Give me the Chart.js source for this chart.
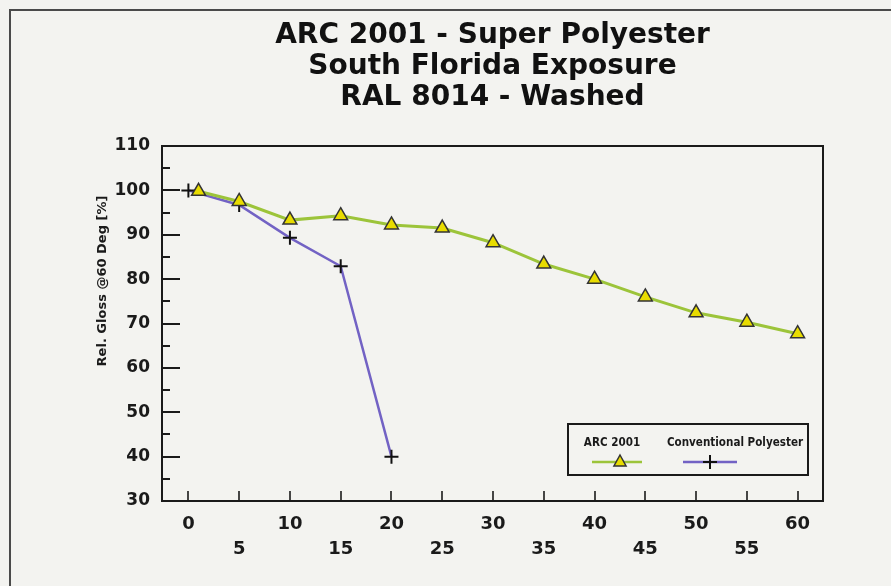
<!DOCTYPE html>
<html>
<head>
<meta charset="utf-8">
<script src="https://cdn.jsdelivr.net/npm/chart.js@4"></script>
<style>
  html, body { margin: 0; padding: 0; background: #f3f3f0; }
  #wrap { width: 891px; height: 586px; }
</style>
</head>
<body>
<div id="wrap"><canvas id="c" width="891" height="586"></canvas></div>
<script>
// ---- Data ----
const titleLines = ["ARC 2001 - Super Polyester", "South Florida Exposure", "RAL 8014 - Washed"];
const yAxisTitle = "Rel. Gloss @60 Deg [%]";
const arcName = "ARC 2001";
const convName = "Conventional Polyester";
const arcMonths = [1, 5, 10, 15, 20, 25, 30, 35, 40, 45, 50, 55, 60];
const arcGloss  = [99.8, 97.5, 93.3, 94.3, 92.2, 91.5, 88.2, 83.4, 80.0, 76.0, 72.4, 70.3, 67.7];
const convMonths = [0, 5, 10, 15, 20];
const convGloss  = [100, 96.7, 89.3, 82.9, 40.0];
const xTickValues = [0, 5, 10, 15, 20, 25, 30, 35, 40, 45, 50, 55, 60];
const yTickValues = [30, 35, 40, 45, 50, 55, 60, 65, 70, 75, 80, 85, 90, 95, 100, 105, 110];

const FONT = "'DejaVu Sans', 'Noto Sans', sans-serif";
const INK = '#1a1a1a';
const BG = '#f3f3f0';
const ARC_LINE = '#9cc43a';
const ARC_FILL = '#e8dc00';
const CONV_LINE = '#7262c4';

const toXY = (xs, ys) => xs.map((x, i) => ({ x: x, y: ys[i] }));

function narrowText(ctx, text, x, y, squeeze) {
  ctx.save();
  ctx.translate(x, y);
  ctx.scale(squeeze, 1);
  ctx.fillText(text, 0, 0);
  ctx.restore();
}

const framePlugin = {
  id: 'frame',
  beforeDraw(chart) {
    const ctx = chart.ctx;
    ctx.save();
    ctx.fillStyle = BG;
    ctx.fillRect(0, 0, chart.width, chart.height);
    ctx.strokeStyle = '#4a4a4a';
    ctx.lineWidth = 2;
    ctx.strokeRect(10, 10, chart.width + 20, chart.height + 20);
    ctx.restore();
  },
  afterDraw(chart) {
    const ctx = chart.ctx;
    const a = chart.chartArea;
    const xs = chart.scales.x, ys = chart.scales.y;
    ctx.save();
    ctx.strokeStyle = INK;
    ctx.lineCap = 'butt';
    // top and right borders
    ctx.lineWidth = 2;
    ctx.beginPath();
    ctx.moveTo(a.left, a.top); ctx.lineTo(a.right, a.top); ctx.lineTo(a.right, a.bottom);
    ctx.stroke();
    // y ticks (inward)
    ys.ticks.forEach(t => {
      const y = Math.round(ys.getPixelForValue(t.value));
      const len = (t.value % 10 === 0) ? 18 : 8;
      ctx.beginPath(); ctx.moveTo(a.left, y); ctx.lineTo(a.left + len, y); ctx.stroke();
    });
    // x ticks (inward)
    ctx.lineWidth = 1.6;
    xs.ticks.forEach(t => {
      const x = Math.round(xs.getPixelForValue(t.value));
      ctx.beginPath(); ctx.moveTo(x, a.bottom); ctx.lineTo(x, a.bottom - 10); ctx.stroke();
    });
    // y axis title
    ctx.save();
    ctx.translate(103, 281);
    ctx.rotate(-Math.PI / 2);
    ctx.fillStyle = INK;
    ctx.font = "bold 13px " + FONT;
    ctx.textAlign = 'center';
    ctx.textBaseline = 'middle';
    ctx.fillText(yAxisTitle, 0, 0);
    ctx.restore();
    // legend
    const L = a.right - 255, R = a.right - 15, T = a.bottom - 77, B = a.bottom - 26;
    ctx.fillStyle = BG;
    ctx.fillRect(L, T, R - L, B - T);
    ctx.lineWidth = 2;
    ctx.strokeStyle = INK;
    ctx.strokeRect(L, T, R - L, B - T);
    ctx.fillStyle = INK;
    ctx.font = "bold 13px " + FONT;
    ctx.textAlign = 'center';
    ctx.textBaseline = 'middle';
    const c1 = L + 44, c2 = L + 167;
    narrowText(ctx, arcName, c1, T + 19, 0.8);
    narrowText(ctx, convName, c2, T + 19, 0.8);
    const ly = T + 38;
    // ARC sample
    ctx.strokeStyle = ARC_LINE; ctx.lineWidth = 2.5;
    ctx.beginPath(); ctx.moveTo(c1 - 20, ly); ctx.lineTo(c1 + 30, ly); ctx.stroke();
    ctx.fillStyle = ARC_FILL; ctx.strokeStyle = '#333';
    ctx.lineWidth = 1.5;
    ctx.beginPath();
    const r = 7, tx = c1 + 8;
    ctx.moveTo(tx, ly - r);
    ctx.lineTo(tx + r * 0.866, ly + r * 0.5 + 0.5);
    ctx.lineTo(tx - r * 0.866, ly + r * 0.5 + 0.5);
    ctx.closePath(); ctx.fill(); ctx.stroke();
    // Conv sample
    ctx.strokeStyle = CONV_LINE; ctx.lineWidth = 2.5;
    ctx.beginPath(); ctx.moveTo(c2 - 52, ly); ctx.lineTo(c2 + 2, ly); ctx.stroke();
    ctx.strokeStyle = '#111'; ctx.lineWidth = 2;
    const cx = c2 - 25;
    ctx.beginPath();
    ctx.moveTo(cx - 7, ly); ctx.lineTo(cx + 7, ly);
    ctx.moveTo(cx, ly - 7); ctx.lineTo(cx, ly + 7);
    ctx.stroke();
    ctx.restore();
  }
};

new Chart(document.getElementById('c'), {
  type: 'line',
  data: {
    datasets: [
      {
        label: arcName,
        data: toXY(arcMonths, arcGloss),
        borderColor: ARC_LINE,
        borderWidth: 3,
        pointStyle: 'triangle',
        pointRadius: 8,
        pointBackgroundColor: ARC_FILL,
        pointBorderColor: '#333',
        pointBorderWidth: 1.5,
        tension: 0
      },
      {
        label: convName,
        data: toXY(convMonths, convGloss),
        borderColor: CONV_LINE,
        borderWidth: 2.5,
        pointStyle: 'cross',
        pointRadius: 7,
        pointBorderColor: '#111',
        pointBorderWidth: 2,
        tension: 0
      }
    ]
  },
  options: {
    responsive: false,
    animation: false,
    devicePixelRatio: 1,
    layout: { padding: { left: 0, right: 68, top: 0, bottom: 0 } },
    plugins: {
      legend: { display: false },
      tooltip: { enabled: false },
      title: {
        display: true,
        fullSize: false,
        text: titleLines,
        color: '#111',
        font: { family: FONT, size: 28, weight: 'bold', lineHeight: 31 / 28 },
        padding: { top: 20, bottom: 33 }
      }
    },
    scales: {
      x: {
        type: 'linear',
        min: -2.6,
        max: 62.5,
        afterBuildTicks: (s) => { s.ticks = xTickValues.map(v => ({ value: v })); },
        afterFit: (s) => { s.height = 85; },
        ticks: {
          autoSkip: false,
          maxRotation: 0,
          color: INK,
          padding: 11,
          font: { family: FONT, size: 18, weight: 'bold', lineHeight: 25 / 18 },
          callback: (v) => (v % 10 === 0) ? [String(v), ''] : ['', String(v)]
        },
        grid: { display: true, drawOnChartArea: false, drawTicks: false },
        border: { display: true, color: INK, width: 2 }
      },
      y: {
        type: 'linear',
        min: 30,
        max: 110,
        afterBuildTicks: (s) => { s.ticks = yTickValues.map(v => ({ value: v })); },
        afterFit: (s) => { s.width = 162; },
        ticks: {
          autoSkip: false,
          color: INK,
          padding: 12,
          font: { family: FONT, size: 17, weight: 'bold' },
          callback: (v) => (v % 10 === 0) ? String(v) : ''
        },
        grid: { display: true, drawOnChartArea: false, drawTicks: false },
        border: { display: true, color: INK, width: 2 }
      }
    }
  },
  plugins: [framePlugin]
});
</script>
</body>
</html>
